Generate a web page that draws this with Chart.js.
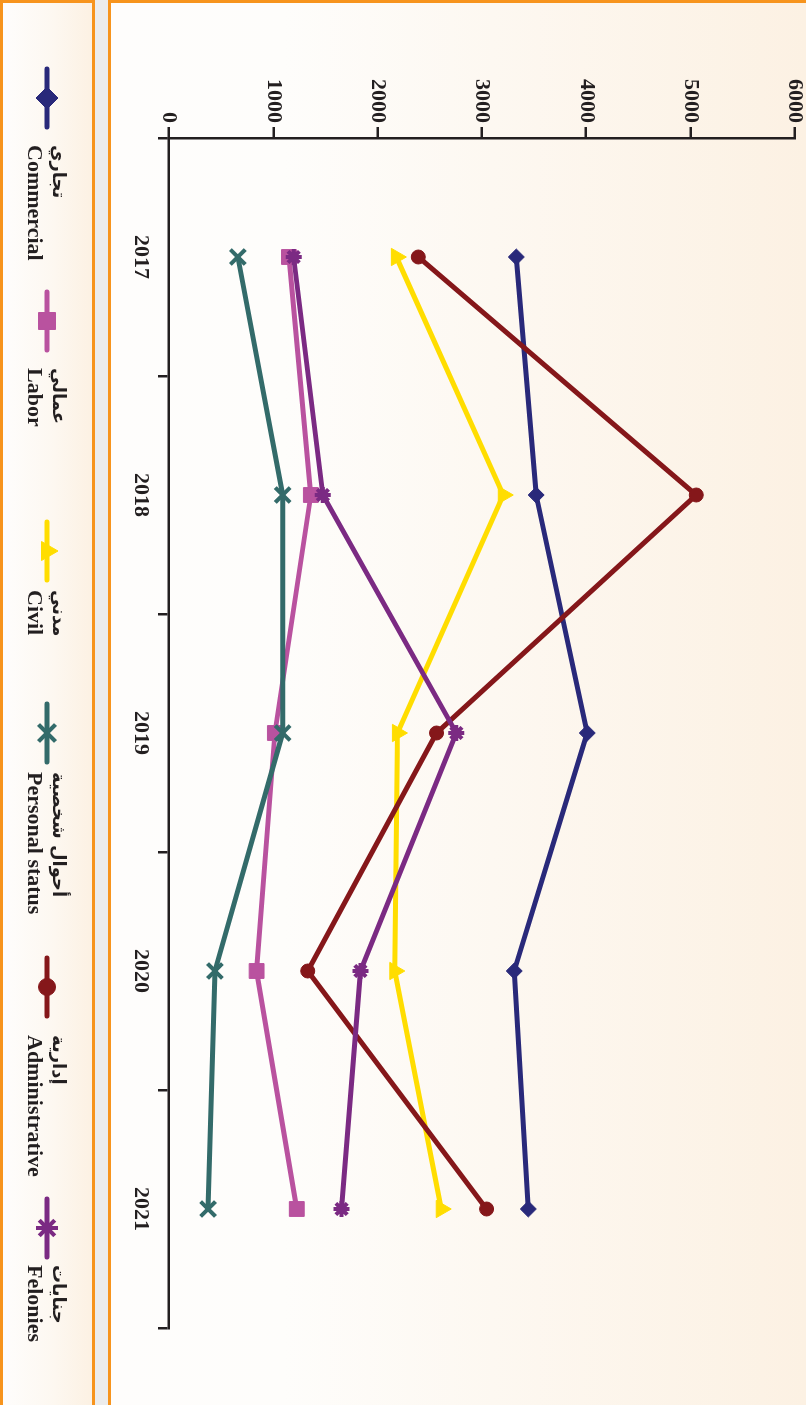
<!DOCTYPE html>
<html>
<head>
<meta charset="utf-8">
<script src="https://cdn.jsdelivr.net/npm/chart.js@4/dist/chart.umd.min.js"></script>
<style>
  html, body { margin: 0; padding: 0; width: 806px; height: 1405px; overflow: hidden; background: #fff; }
  #wrap { position: absolute; left: 806px; top: 0; width: 1405px; height: 806px; transform-origin: 0 0; transform: rotate(90deg); }
  .panel { position: absolute; box-sizing: border-box; border: 3px solid #f7941d; }
  #chartPanel { left: 0; top: -3px; width: 1412px; height: 701px; background: linear-gradient(to bottom, #fcf1e3 0%, #fdf8f1 45%, #fefdfb 75%, #fefdfc 100%); }
  #gap { position: absolute; left: 0; top: 698px; width: 1405px; height: 13px; background: #ececec; }
  #legendPanel { left: 0; top: 711px; width: 1412px; height: 95px; background: linear-gradient(to bottom, #fcf1e3 0%, #fdf8f1 45%, #fefdfc 100%); }
  canvas { position: absolute; left: 0; top: -6px; }
</style>
</head>
<body>
<div id="wrap">
  <div class="panel" id="chartPanel"></div>
  <div id="gap"></div>
  <div class="panel" id="legendPanel"></div>
  <canvas id="cases" width="1405" height="812"></canvas>
</div>
<script>
'use strict'

const years = ['2017', '2018', '2019', '2020', '2021'];
const commercial = [3330, 3520, 4010, 3310, 3445];
const labor = [1150, 1360, 1015, 840, 1225];
const civil = [2180, 3205, 2190, 2165, 2610];
const personalStatus = [660, 1090, 1090, 440, 375];
const administrative = [2390, 5055, 2565, 1330, 3045];
const felonies = [1195, 1475, 2755, 1835, 1655];

const namesAr = ['تجاري', 'عمالي', 'مدني', 'أحوال شخصية', 'إدارية', 'جنايات'];
const namesEn = ['Commercial', 'Labor', 'Civil', 'Personal status', 'Administrative', 'Felonies'];

const valueMin = 0;
const valueMax = 6000;
const valueStep = 1000;

const ink = '#231f20';
const serif = '"Liberation Serif", "Times New Roman", "DejaVu Sans", serif';

// look of each series
const styles = [
    { color: '#29297a', point: 'rectRot', r: 8, lr: 11 },
    { color: '#b9529f', point: 'rect', r: 10.5, lr: 12 },
    { color: '#ffdd00', point: 'triangle', r: 10, lr: 11 },
    { color: '#336b6a', point: 'crossRot', r: 10.5, lr: 12 },
    { color: '#85171a', point: 'circle', r: 7, lr: 8.5 },
    { color: '#7b2a83', point: 'star', r: 8, lr: 11 },
];
const seriesData = [commercial, labor, civil, personalStatus, administrative, felonies];

// legend layout (marker centre, text start) along the bottom strip
const legendMarkX = [98, 321, 551, 733, 987, 1228];
const legendTextX = [145, 368, 590, 772, 1035, 1265];

const datasets = seriesData.map((d, i) => ({
    label: namesEn[i],
    data: d,
    borderColor: styles[i].color,
    backgroundColor: styles[i].color,
    pointBackgroundColor: styles[i].color,
    pointBorderColor: styles[i].color,
    pointStyle: styles[i].point,
    pointRadius: styles[i].r,
    pointBorderWidth: (styles[i].point === 'crossRot' || styles[i].point === 'star') ? 4 : 1,
    borderWidth: 5,
    tension: 0,
    fill: false,
    order: 6 - i,
}));

// canvas sits 6px above the panels
const shift = 6;

const legendStrip = {
    id: 'legendStrip',
    afterDraw(chart) {
        const ctx = chart.ctx;
        const midY = 759 + shift;
        ctx.save();
        styles.forEach((s, i) => {
            const cx = legendMarkX[i];
            ctx.strokeStyle = s.color;
            ctx.fillStyle = s.color;
            ctx.lineWidth = 5;
            ctx.lineCap = 'round';
            ctx.beginPath();
            ctx.moveTo(cx - 29, midY);
            ctx.lineTo(cx + 29, midY);
            ctx.stroke();
            ctx.lineCap = 'butt';
            const bw = (s.point === 'crossRot' || s.point === 'star') ? 4 : 1;
            ctx.lineWidth = bw;
            Chart.helpers.drawPoint(ctx, { pointStyle: s.point, radius: s.lr, rotation: 0, borderWidth: bw }, cx, midY);

            ctx.fillStyle = ink;
            ctx.textBaseline = 'middle';
            ctx.font = 'bold 18px "DejaVu Sans", sans-serif';
            ctx.direction = 'rtl';
            ctx.textAlign = 'left';
            ctx.fillText(namesAr[i], legendTextX[i], 748 + shift);
            ctx.direction = 'ltr';
            ctx.font = 'bold 22px ' + serif;
            ctx.fillText(namesEn[i], legendTextX[i], 772 + shift);
        });
        ctx.restore();
    }
};

const casesChart = new Chart(document.getElementById('cases'), {
    type: 'line',
    data: { labels: years, datasets: datasets },
    options: {
        responsive: false,
        animation: false,
        layout: { padding: { left: 78, right: 77, top: 0, bottom: 129 } },
        plugins: { legend: { display: false }, tooltip: { enabled: false } },
        scales: {
            x: {
                type: 'category',
                offset: true,
                grid: { offset: true, drawOnChartArea: false, drawTicks: true, tickLength: 11, color: ink, lineWidth: 2.5 },
                border: { display: true, color: ink, width: 2.5 },
                ticks: { color: ink, padding: 4, maxRotation: 0, font: { family: serif, size: 22, weight: 'bold' } },
                afterFit(s) { s.height = 40; },
            },
            y: {
                min: valueMin,
                max: valueMax,
                grid: { drawOnChartArea: false, drawTicks: true, tickLength: 11, color: ink, lineWidth: 2.5 },
                border: { display: true, color: ink, width: 2.5 },
                ticks: {
                    stepSize: valueStep,
                    color: ink,
                    padding: 4,
                    font: { family: serif, size: 22, weight: 'bold' },
                    callback: (v) => String(v),
                },
                afterFit(s) { s.width = 60; },
            },
        },
    },
    plugins: [legendStrip],
});
</script>
</body>
</html>
